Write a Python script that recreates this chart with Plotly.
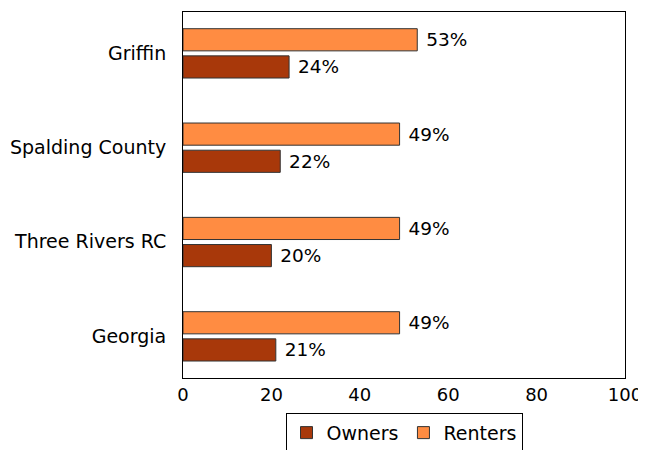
import plotly.graph_objects as go

categories = ["Griffin", "Spalding County", "Three Rivers RC", "Georgia"]
owners = [24, 22, 20, 21]
renters = [53, 49, 49, 49]
x_ticks = [0, 20, 40, 60, 80, 100]

FONT = "DejaVu Sans"
owner_color = "#A8380A"
renter_color = "#FF8C42"

fig = go.Figure()
fig.add_trace(go.Bar(
    name="Owners", y=categories, x=owners, orientation="h",
    marker=dict(color=owner_color, line=dict(color="#333333", width=1)),
    width=0.235, offset=0.03,
    text=[f" {v}%" for v in owners], textposition="outside",
    textfont=dict(size=18.5, color="black", family=FONT), cliponaxis=False,
))
fig.add_trace(go.Bar(
    name="Renters", y=categories, x=renters, orientation="h",
    marker=dict(color=renter_color, line=dict(color="#333333", width=1)),
    width=0.235, offset=-0.258,
    text=[f" {v}%" for v in renters], textposition="outside",
    textfont=dict(size=18.5, color="black", family=FONT), cliponaxis=False,
))

fig.update_layout(
    width=638, height=442,
    margin=dict(l=175, r=21, t=4, b=72, autoexpand=False),
    barmode="overlay",
    plot_bgcolor="white", paper_bgcolor="white",
    font=dict(family=FONT, size=18, color="black"),
    xaxis=dict(range=[0, 100], tickvals=x_ticks, showgrid=False, zeroline=False,
               showline=True, linecolor="black", linewidth=1, mirror=True,
               ticks="", tickfont=dict(size=18), automargin=False),
    yaxis=dict(type="category", categoryorder="array", categoryarray=categories,
               range=[3.445, -0.435], showgrid=False, zeroline=False,
               showline=True, linecolor="black", linewidth=1, mirror=True,
               ticks="", ticklabelstandoff=12, tickfont=dict(size=19), automargin=False),
    legend=dict(orientation="h", x=0.5, xanchor="center", y=-0.095, yanchor="top",
                bordercolor="black", borderwidth=1, font=dict(size=19),
                traceorder="normal"),
    showlegend=True,
)

fig.write_html("out.html")
